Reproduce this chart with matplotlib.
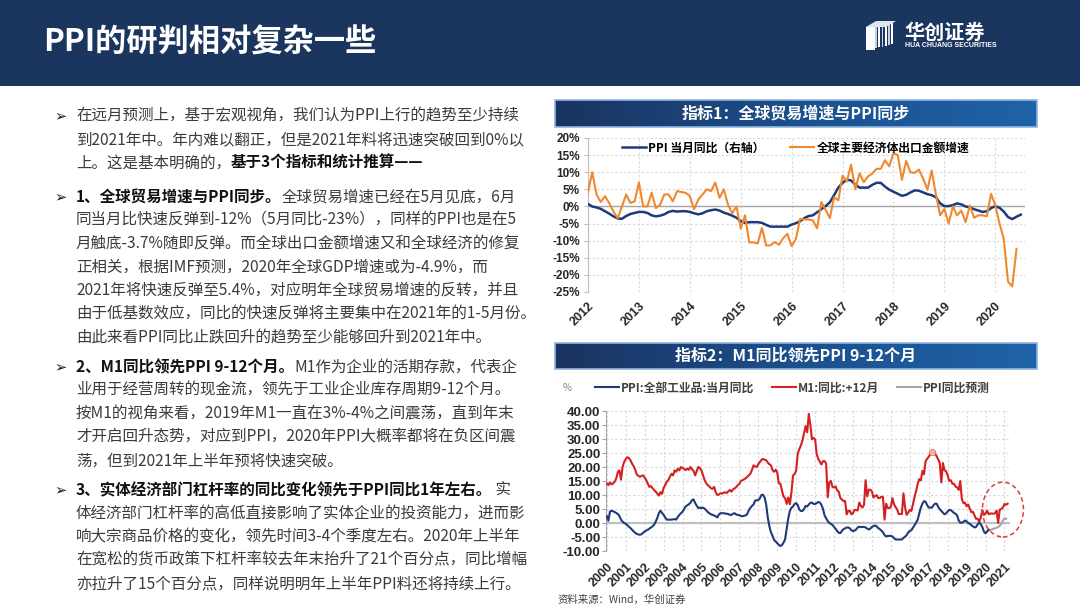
import numpy as np
import matplotlib
matplotlib.use('Agg')
import matplotlib.pyplot as plt
from matplotlib.colors import LinearSegmentedColormap
from matplotlib.patches import Ellipse, Rectangle, Polygon

plt.rcParams['font.family'] = ['Noto Sans CJK SC', 'DejaVu Sans']

W, H = 1080, 608

# ---- chart 1: monthly, Jan 2012 - Jul 2020 ----
ppi = [0.7, 0.0, -0.3, -0.7, -1.4, -2.1, -2.9, -3.5, -3.6, -2.8, -2.2, -1.9,
       -1.6, -1.6, -1.9, -2.6, -2.9, -2.7, -2.3, -1.6, -1.3, -1.5, -1.4, -1.4,
       -1.6, -2.0, -2.3, -2.0, -1.4, -1.1, -0.9, -1.2, -1.8, -2.2, -2.7, -3.3,
       -4.3, -4.8, -4.6, -4.6, -4.6, -4.8, -5.4, -5.9, -5.9, -5.9, -5.9, -5.9,
       -5.3, -4.9, -4.3, -3.4, -2.8, -2.6, -1.7, -0.8, 0.1, 1.2, 3.3, 5.5,
       6.9, 7.8, 7.6, 6.4, 5.5, 5.5, 5.5, 6.3, 6.9, 6.9, 5.8, 4.9,
       4.3, 3.7, 3.1, 3.4, 4.1, 4.7, 4.6, 4.1, 3.6, 3.3, 2.7, 0.9,
       0.1, 0.1, 0.4, 0.9, 0.6, 0.0, -0.3, -0.8, -1.2, -1.6, -1.4, -0.5,
       0.1, -0.4, -1.5, -3.1, -3.7, -3.0, -2.4]
export_growth = [4.2, 10.0, 3.5, 1.3, 3.0, 1.0, -1.5, -3.4, 0.0, 3.5, 1.0, 1.5,
                 7.0, 0.0, 0.0, 4.0, -0.5, 0.5, 3.5, 3.5, 1.5, 4.5, 4.2, 4.0,
                 3.0, -0.8, 2.0, 3.5, 5.0, 4.5, 7.0, 2.5, 5.0, 0.5, -2.0, 0.0,
                 -6.5, -2.6, -10.5, -10.5, -10.8, -6.3, -11.4, -11.4, -10.4, -11.2, -9.3, -8.0,
                 -11.6, -9.5, -3.6, -3.8, -3.8, -4.1, -6.4, 1.3, -1.0, -3.4, 2.7, 1.8,
                 9.0, 7.3, 12.2, 5.0, 9.7, 7.1, 8.8, 9.6, 11.0, 11.0, 13.5, 11.7,
                 15.6, 15.0, 7.8, 13.3, 10.0, 9.8, 10.8, 8.1, 4.9, 10.5, 3.5, -2.6,
                 -0.7, -5.0, 0.0, -2.6, -1.2, -4.6, 0.3, -3.3, -2.6, -2.6, -2.9, 3.7,
                 0.3, -5.0, -9.5, -22.0, -23.4, -12.4]
years1 = list(range(2012, 2021))

# ---- chart 2: monthly, category axis starting May 2000 ----
ppi_2000_2007 = [2.4, 0.8, 4.1, 4.4, 4.2, 3.9, 3.6, 3.2, 2.5, 1.2, 0.5, 0.0,
                 -0.3, -0.8, -1.3, -1.8, -2.4, -3.0, -3.5, -3.9, -4.1, -4.2, -4.0, -3.5,
                 -3.0, -2.7, -2.4, -2.0, -1.6, -1.2, -0.6, 0.5, 1.8, 3.5, 4.4, 3.6,
                 2.9, 2.0, 1.2, 1.2, 1.2, 1.2, 1.3, 1.4, 1.2, 2.2, 2.9, 3.5,
                 4.0, 5.0, 5.9, 6.3, 6.7, 7.2, 8.2, 8.4, 7.1, 6.2, 5.3, 5.5,
                 5.3, 5.5, 5.1, 4.6, 3.9, 3.5, 3.1, 2.9, 2.7, 2.4, 2.0, 3.0,
                 3.5, 3.5, 3.5, 3.4, 3.3, 3.2, 2.9, 2.9, 3.3, 3.5, 3.0, 2.9,
                 2.8, 2.5, 2.4, 2.6, 2.7, 3.2, 4.6, 5.4]
ppi_2008_2011 = [6.1, 6.6, 8.0, 8.1, 8.2, 8.8, 10.0, 10.1, 9.1, 6.6, 2.0, -1.1,
                 -3.3, -4.5, -6.0, -6.6, -7.2, -7.8, -8.2, -7.9, -7.0, -5.8, -2.1, 1.7,
                 4.3, 5.4, 5.9, 6.8, 7.1, 6.4, 4.8, 4.3, 4.3, 5.0, 6.1, 5.9,
                 6.6, 7.2, 7.3, 6.8, 6.8, 7.1, 7.5, 7.3, 6.5, 5.0, 2.7, 1.7]
# M1 yoy, plotted 12 months ahead
m1_1999_2006 = [14.1, 13.5, 14.5, 13.8, 14.1, 14.8, 15.9, 18.2, 18.8, 15.5, 20.0, 21.8,
                22.8, 23.5, 23.2, 22.4, 21.2, 20.3, 19.0, 17.3, 16.9, 16.5, 16.8, 17.0,
                16.2, 15.3, 14.0, 12.9, 13.2, 12.4, 11.8, 11.2, 10.5, 9.8, 11.0, 10.4,
                12.5, 13.5, 14.8, 15.3, 16.5, 17.6, 17.0, 18.8, 18.3, 19.4, 18.8, 20.0,
                19.6, 19.4, 18.9, 19.4, 19.0, 20.0, 19.2, 18.6, 17.0, 18.6, 20.0, 19.6,
                18.8, 17.0, 15.3, 14.2, 13.5, 13.0, 12.4, 12.2, 12.9, 11.0, 10.0, 10.2,
                10.6, 10.5, 10.8, 11.0, 10.7, 11.3, 11.8, 11.2, 12.0, 12.4, 12.8, 13.5,
                14.0, 15.0, 15.3, 15.6, 16.0, 16.5, 17.0, 17.6]
m1_2007 = [19.0, 20.6, 20.2, 20.0, 21.0, 21.8, 22.5, 22.9, 22.6, 22.4, 21.6, 21.0]
m1_2008_2020 = [20.6, 18.9, 18.3, 19.0, 18.1, 14.2, 14.0, 11.6, 9.4, 8.9, 6.8, 9.1,
                6.7, 10.9, 17.0, 17.5, 18.7, 24.8, 26.4, 27.7, 29.5, 32.0, 34.6, 32.4,
                39.0, 35.0, 29.9, 30.4, 29.9, 24.6, 22.9, 21.9, 20.9, 22.1, 22.1, 21.2,
                9.2, 14.5, 15.0, 12.9, 12.7, 13.1, 11.6, 11.2, 8.9, 8.4, 7.8, 7.9,
                3.1, 4.3, 4.4, 3.1, 3.5, 4.7, 4.6, 4.5, 7.3, 6.1, 5.5, 6.5,
                15.3, 9.5, 11.9, 11.9, 11.3, 9.1, 9.7, 9.9, 8.9, 8.9, 9.4, 9.3,
                1.2, 6.9, 5.4, 5.3, 5.7, 8.9, 6.7, 5.7, 4.8, 3.2, 3.2, 3.2,
                10.6, 5.6, 2.9, 3.7, 4.7, 4.3, 6.6, 9.3, 11.4, 14.0, 15.7, 15.2,
                18.6, 17.4, 22.1, 22.9, 23.7, 24.6, 25.4, 25.3, 24.7, 23.9, 22.7, 21.4,
                14.5, 21.4, 18.8, 18.5, 17.0, 15.0, 15.3, 14.0, 14.0, 13.0, 12.7, 11.8,
                15.0, 8.5, 7.1, 7.2, 6.0, 6.6, 5.1, 3.9, 4.0, 2.7, 1.5, 1.5,
                0.4, 2.0, 4.6, 2.9, 3.4, 4.4, 3.1, 3.4, 3.4, 3.3, 3.5, 4.4,
                0.0, 4.8, 5.0, 5.5, 6.8, 6.5, 6.9]
ppi_forecast = [-3.0, -2.6, -2.5, -2.3, -2.1, -1.9, -1.7, -1.4, -1.0, -0.3, 0.8, 1.7, 1.5]
years2 = list(range(2000, 2022))

ppi_long = ppi_2000_2007 + ppi_2008_2011 + ppi
m1_lead = m1_1999_2006 + m1_2007 + m1_2008_2020

paragraphs = [
    [[("在远月预测上，基于宏观视角，我们认为PPI上行的趋势至少持续", False)],
     [("到2021年中。年内难以翻正，但是2021年料将迅速突破回到0%以", False)],
     [("上。这是基本明确的，", False), ("基于3个指标和统计推算——", True)]],
    [[("1、全球贸易增速与PPI同步。", True), ("全球贸易增速已经在5月见底，6月", False)],
     [("同当月比快速反弹到-12%（5月同比-23%），同样的PPI也是在5", False)],
     [("月触底-3.7%随即反弹。而全球出口金额增速又和全球经济的修复", False)],
     [("正相关，根据IMF预测，2020年全球GDP增速或为-4.9%，而", False)],
     [("2021年将快速反弹至5.4%，对应明年全球贸易增速的反转，并且", False)],
     [("由于低基数效应，同比的快速反弹将主要集中在2021年的1-5月份。", False)],
     [("由此来看PPI同比止跌回升的趋势至少能够回升到2021年中。", False)]],
    [[("2、M1同比领先PPI 9-12个月。", True), ("M1作为企业的活期存款，代表企", False)],
     [("业用于经营周转的现金流，领先于工业企业库存周期9-12个月。", False)],
     [("按M1的视角来看，2019年M1一直在3%-4%之间震荡，直到年末", False)],
     [("才开启回升态势，对应到PPI，2020年PPI大概率都将在负区间震", False)],
     [("荡，但到2021年上半年预将快速突破。", False)]],
    [[("3、实体经济部门杠杆率的同比变化领先于PPI同比1年左右。", True), (" 实", False)],
     [("体经济部门杠杆率的高低直接影响了实体企业的投资能力，进而影", False)],
     [("响大宗商品价格的变化，领先时间3-4个季度左右。2020年上半年", False)],
     [("在宽松的货币政策下杠杆率较去年末抬升了21个百分点，同比增幅", False)],
     [("亦拉升了15个百分点，同样说明明年上半年PPI料还将持续上行。", False)]],
]
para_top = [116, 197, 367, 490]


def fx(px):
    return px / W


def fy(py):
    return 1 - py / H


fig = plt.figure(figsize=(W / 100, H / 100), dpi=100)
fig.patch.set_facecolor('white')
renderer = fig.canvas.get_renderer()

# header band
hdr = fig.add_axes([0, fy(86), 1, 86 / H])
hdr.set_xlim(0, W)
hdr.set_ylim(86, 0)
hdr.axis('off')
hdr.add_patch(Rectangle((0, 0), W, 86, color='#1b365e'))
hdr.text(43, 43, 'PPI的研判相对复杂一些', color='white', fontsize=22.5,
         fontweight='bold', va='center', ha='left')
# logo
for k in range(7):
    x0 = 872 + k * 3.2
    hdr.add_patch(Polygon([(x0, 26 - k * 0.8), (x0 + 1.8, 26 - k * 0.8),
                           (x0 + 1.8, 49 - k * 0.8), (x0, 49 - k * 0.8)],
                          color='white' if k % 2 == 0 else '#c9d3e0', lw=0))
hdr.add_patch(Polygon([(866, 27), (876, 21), (896, 21), (886, 27)], color='#dfe5ee', lw=0))
hdr.add_patch(Rectangle((866, 27), 9, 23, color='white', lw=0))
hdr.text(904, 32, '华创证券', color='white', fontsize=14.5, fontweight='bold',
         va='center', ha='left')
hdr.text(905, 45.5, 'HUA CHUANG SECURITIES', color='white', fontsize=5,
         fontweight='bold', va='center', ha='left', family='Liberation Sans')

# left text
line_gap = 23.4
for top, para in zip(para_top, paragraphs):
    fig.text(fx(54), fy(top), '➢', fontsize=10.5, color='#1a1a1a', va='center',
             ha='left', family=['DejaVu Sans'])
    for li, parts in enumerate(para):
        x = 76
        y = top + li * line_gap
        for s, bold in parts:
            t = fig.text(fx(x), fy(y), s, fontsize=11.2,
                         fontweight='bold' if bold else 'normal',
                         color='#111111' if bold else '#3b3b3b',
                         va='center', ha='left')
            x += t.get_window_extent(renderer=renderer).width


def banner(top, bottom, title):
    bax = fig.add_axes([fx(555), fy(bottom), (1037 - 555) / W, (bottom - top) / H])
    grad = np.linspace(0, 1, 256).reshape(1, -1)
    cmap = LinearSegmentedColormap.from_list('bn', ['#1a3360', '#1c4f8c', '#1f63a8'])
    bax.imshow(grad, aspect='auto', cmap=cmap, extent=[0, 1, 0, 1])
    bax.set_xlim(0, 1)
    bax.set_ylim(0, 1)
    bax.axis('off')
    bax.add_patch(Rectangle((0, 0), 1, 1, fill=False, ec='#8fb6e0', lw=1.2,
                            transform=bax.transAxes, clip_on=False))
    bax.text(0.5, 0.5, title, ha='center', va='center', color='white',
             fontsize=11.5, fontweight='bold')


banner(100, 127, '指标1：全球贸易增速与PPI同步')
banner(343, 369, '指标2：M1同比领先PPI 9-12个月')

tick_font = dict(family='Liberation Sans', weight='bold')

# ---- chart 1 ----
ax1 = fig.add_axes([fx(588), fy(292), (1025 - 588) / W, (292 - 138) / H])
ax1.plot(np.arange(len(ppi)), ppi, color='#1f3a7a', lw=1.8,
         label='PPI 当月同比（右轴）', zorder=3)
ax1.plot(np.arange(len(export_growth)), export_growth, color='#f0892d', lw=1.5,
         label='全球主要经济体出口金额增速', zorder=4)
ax1.axhline(0, color='#a6a6a6', lw=1.0, zorder=2)
ax1.set_xlim(0, 103)
ax1.set_ylim(-25, 20)
yt1 = list(range(-25, 21, 5))
ax1.set_yticks(yt1, [f'{v}%' for v in yt1], fontsize=8.5, **tick_font)
ax1.set_xticks([12 * i for i in range(len(years1))], [str(y) for y in years1],
               rotation=45, ha='right', rotation_mode='anchor', fontsize=9,
               **tick_font)
ax1.tick_params(axis='x', length=0, pad=6, colors='#262626')
ax1.tick_params(axis='y', length=3, pad=3, color='#bfbfbf', colors='#262626')
ax1.grid(True, color='#d9d9d9', ls=(0, (2, 2)), lw=0.8)
for sp in ['top', 'right', 'bottom']:
    ax1.spines[sp].set_visible(False)
ax1.spines['left'].set_color('#bfbfbf')
ax1.legend(loc='center', bbox_to_anchor=(0.475, 0.935), ncol=2, frameon=False,
           prop={'weight': 'bold', 'size': 8.5}, handlelength=2.0,
           handletextpad=0.2, columnspacing=2.2, borderpad=0, borderaxespad=0)

# ---- chart 2 ----
ax2 = fig.add_axes([fx(606), fy(551), (1010 - 606) / W, (551 - 411) / H])
x_ppi = np.arange(len(ppi_long))
x_m1 = np.arange(len(m1_lead))
fc_start = len(ppi_long) - 2
x_fc = np.arange(fc_start, fc_start + len(ppi_forecast))
ax2.axhline(0, color='#bfbfbf', lw=1.6, zorder=2)
ax2.plot(x_ppi, ppi_long, color='#1f3a7a', lw=1.5, label='PPI:全部工业品:当月同比', zorder=4)
ax2.plot(x_m1, m1_lead, color='#d42020', lw=1.5, label='M1:同比:+12月', zorder=3)
ax2.plot(x_fc, ppi_forecast, color='#a6a6a6', lw=1.5, label='PPI同比预测', zorder=3)

pk = int(np.argmax(m1_lead[190:230])) + 190
ax2.plot(pk, m1_lead[pk], 'o', ms=4.5, mfc='#f8c0b4', mec='#e8705a', mew=0.7,
         alpha=0.9, zorder=5)

tail = m1_lead[-20:]
ex0, ex1 = fc_start - 3, len(m1_lead) - 1 + 10
ey0, ey1 = min(ppi_forecast) - 2, max(tail) + 7.7
ax2.add_patch(Ellipse(((ex0 + ex1) / 2, (ey0 + ey1) / 2), ex1 - ex0, ey1 - ey0,
                      fill=False, ec='#e23b3b', ls=(0, (3, 2)), lw=1.1,
                      clip_on=False, zorder=6))

ax2.set_xlim(-0.5, 255.5)
ax2.set_ylim(-10, 40)
yt2 = list(range(-10, 41, 5))
ax2.set_yticks(yt2, [f'{v:.2f}' for v in yt2], fontsize=9.5, **tick_font)
ax2.set_xticks([12 * i for i in range(len(years2))], [str(y) for y in years2],
               rotation=45, ha='right', rotation_mode='anchor', fontsize=9,
               **tick_font)
ax2.tick_params(axis='x', length=0, pad=7, colors='#262626')
ax2.tick_params(axis='y', length=3, pad=1, color='#a6a6a6', colors='#262626')
ax2.grid(True, color='#d9d9d9', ls=(0, (2, 2)), lw=0.8)
for sp in ['top', 'right', 'bottom']:
    ax2.spines[sp].set_visible(False)
ax2.spines['left'].set_color('#a6a6a6')
ax2.legend(loc='center left', bbox_to_anchor=(-0.027, 1.164), ncol=3, frameon=False,
           prop={'weight': 'bold', 'size': 8.5}, handlelength=2.0,
           handletextpad=0.2, columnspacing=1.5, borderpad=0, borderaxespad=0,
           labelcolor='#404040')
fig.text(fx(563), fy(388), '%', fontsize=7, color='#7f7f7f', va='center', ha='left')

fig.text(fx(558), fy(600), '资料来源：Wind，华创证券', fontsize=7.5, color='#404040',
         va='center', ha='left')

fig.savefig('out.png', dpi=100, facecolor='white')
